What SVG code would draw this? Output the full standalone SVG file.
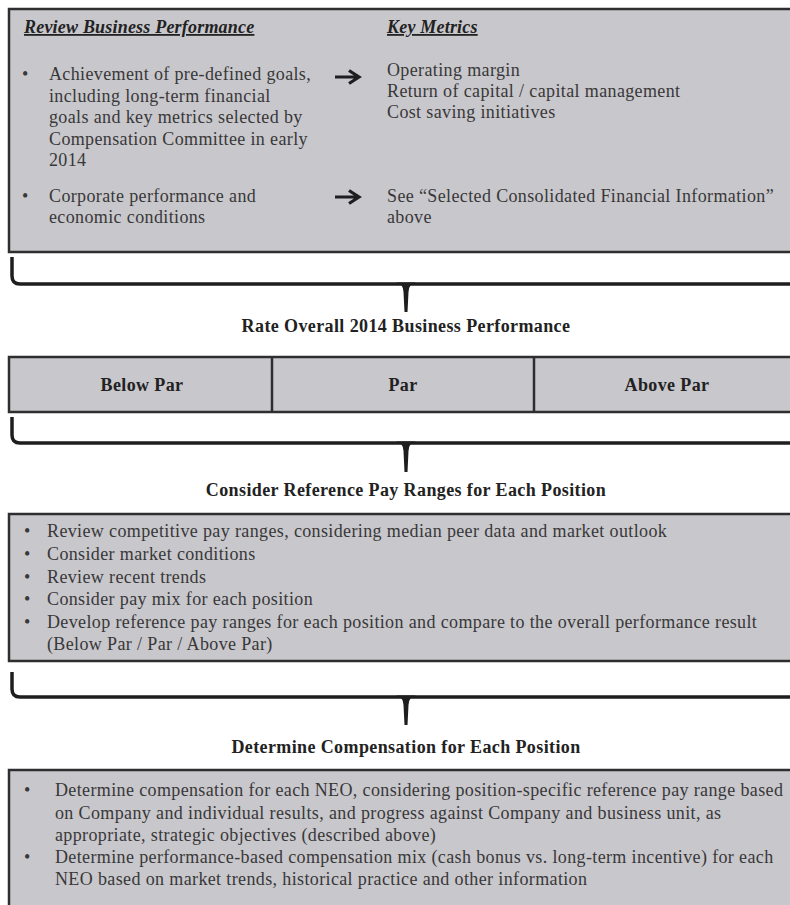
<svg xmlns="http://www.w3.org/2000/svg" width="790" height="905" viewBox="0 0 790 905">
<style>
.box{fill:#c8c7cc;stroke:#2e2e2e;stroke-width:2.5}
.t{font-family:"Liberation Serif","Times New Roman",serif;font-size:18px;letter-spacing:0.37px;fill:#383838}
.h{font-family:"Liberation Serif","Times New Roman",serif;font-size:18px;letter-spacing:0.39px;font-weight:bold;fill:#222}
.hi{font-family:"Liberation Serif","Times New Roman",serif;font-size:18px;letter-spacing:0.2px;font-weight:bold;font-style:italic;fill:#222;text-decoration:underline}
.brace{fill:none;stroke:#1e1e1e;stroke-width:3.5}
.tip{fill:#1e1e1e}
.arr{fill:none;stroke:#1e1e1e;stroke-width:3.2}
</style>
<rect width="790" height="905" fill="#ffffff"/>
<g id="review-box">
<rect class="box" x="9" y="9" width="800" height="243"/>
<text class="hi" x="24" y="33">Review Business Performance</text>
<text class="hi" x="387" y="33">Key Metrics</text>
<text class="t" x="22" y="80">•</text>
<text class="t" x="49" y="80">Achievement of pre-defined goals,</text>
<text class="t" x="49" y="101.5">including long-term financial</text>
<text class="t" x="49" y="123">goals and key metrics selected by</text>
<text class="t" x="49" y="144.5">Compensation Committee in early</text>
<text class="t" x="49" y="166">2014</text>
<text class="t" x="22" y="202">•</text>
<text class="t" x="49" y="202">Corporate performance and</text>
<text class="t" x="49" y="223">economic conditions</text>
<path class="arr" d="M335,77 H357 M349,70.5 L359,77 L349,83.5"/>
<path class="arr" d="M335,197 H357 M349,190.5 L359,197 L349,203.5"/>
<text class="t" x="387" y="76">Operating margin</text>
<text class="t" x="387" y="97">Return of capital / capital management</text>
<text class="t" x="387" y="118">Cost saving initiatives</text>
<text class="t" x="387" y="202">See “Selected Consolidated Financial Information”</text>
<text class="t" x="387" y="223">above</text>
</g>
<g id="connectors">
<path class="brace" d="M12,257 V276 Q12,284 20,284 H800"/>
<path class="tip" d="M396,282.5 Q403.5,284 403.5,292 L404.5,312 L407.5,312 L408.5,292 Q408.5,284 416,282.5 Z"/>
<path class="brace" d="M12,417 V435 Q12,443 20,443 H800"/>
<path class="tip" d="M396,441.5 Q403.5,443 403.5,451 L404.5,472 L407.5,472 L408.5,451 Q408.5,443 416,441.5 Z"/>
<path class="brace" d="M12,672 V689 Q12,697 20,697 H800"/>
<path class="tip" d="M396,695.5 Q403.5,697 403.5,705 L404.5,725 L407.5,725 L408.5,705 Q408.5,697 416,695.5 Z"/>
</g>
<g id="rate-title">
<text class="h" x="406" y="332" text-anchor="middle">Rate Overall 2014 Business Performance</text>
</g>
<g id="rate-bar">
<rect class="box" x="9" y="357" width="800" height="55"/>
<line x1="272" y1="357" x2="272" y2="412" stroke="#2e2e2e" stroke-width="2.5"/>
<line x1="534" y1="357" x2="534" y2="412" stroke="#2e2e2e" stroke-width="2.5"/>
<text class="h" x="142" y="391" text-anchor="middle">Below Par</text>
<text class="h" x="403" y="391" text-anchor="middle">Par</text>
<text class="h" x="667" y="391" text-anchor="middle">Above Par</text>
</g>
<g id="consider-title">
<text class="h" x="406" y="496" text-anchor="middle">Consider Reference Pay Ranges for Each Position</text>
</g>
<g id="consider-box">
<rect class="box" x="9" y="514" width="800" height="147"/>
<text class="t" x="24" y="537">•</text>
<text class="t" x="47" y="537">Review competitive pay ranges, considering median peer data and market outlook</text>
<text class="t" x="24" y="560">•</text>
<text class="t" x="47" y="560">Consider market conditions</text>
<text class="t" x="24" y="582.5">•</text>
<text class="t" x="47" y="582.5">Review recent trends</text>
<text class="t" x="24" y="605">•</text>
<text class="t" x="47" y="605">Consider pay mix for each position</text>
<text class="t" x="24" y="627.5">•</text>
<text class="t" x="47" y="627.5">Develop reference pay ranges for each position and compare to the overall performance result</text>
<text class="t" x="47" y="650">(Below Par / Par / Above Par)</text>
</g>
<g id="determine-title">
<text class="h" x="406" y="753" text-anchor="middle">Determine Compensation for Each Position</text>
</g>
<g id="determine-box">
<rect class="box" x="9" y="770" width="800" height="150"/>
<text class="t" x="24" y="796">•</text>
<text class="t" x="55" y="796">Determine compensation for each NEO, considering position-specific reference pay range based</text>
<text class="t" x="55" y="818.5">on Company and individual results, and progress against Company and business unit, as</text>
<text class="t" x="55" y="841">appropriate, strategic objectives (described above)</text>
<text class="t" x="24" y="863">•</text>
<text class="t" x="55" y="863">Determine performance-based compensation mix (cash bonus vs. long-term incentive) for each</text>
<text class="t" x="55" y="885">NEO based on market trends, historical practice and other information</text>
</g>
</svg>
